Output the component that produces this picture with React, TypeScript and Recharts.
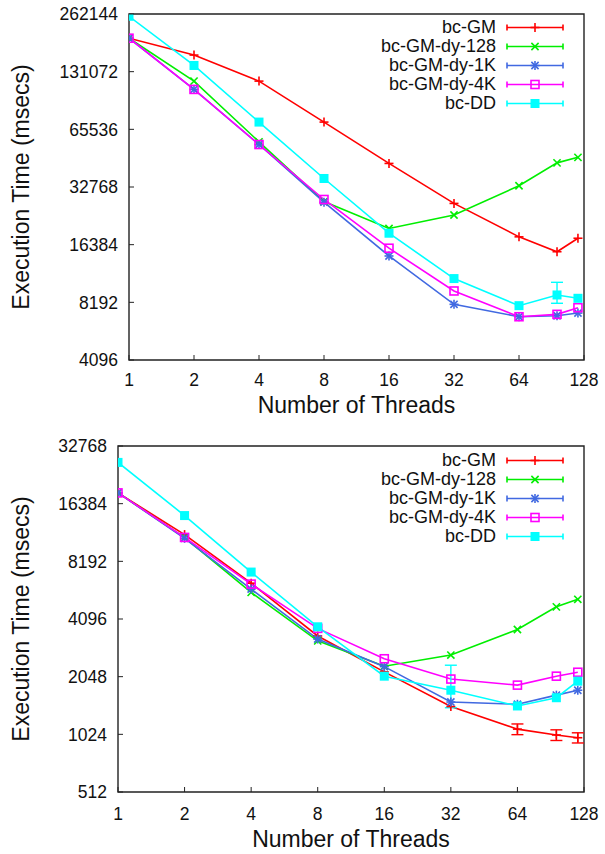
import { ErrorBar, Legend, Line, LineChart, ReferenceArea, XAxis, YAxis } from 'recharts'

const threads = [1, 2, 4, 8, 16, 32, 64, 96, 120]
const xTicks = [1, 2, 4, 8, 16, 32, 64, 128]

// upper plot
const topTicks = [4096, 8192, 16384, 32768, 65536, 131072, 262144]
const gmTop = [196000, 160000, 117000, 71500, 43500, 26900, 18000, 15050, 17700]
const dy128Top = [196000, 117000, 56400, 27500, 19900, 23400, 33250, 43800, 46800]
const dy1kTop = [196000, 105900, 54600, 27300, 14300, 8000, 6890, 6970, 7200]
const dy4kTop = [196000, 105900, 54600, 28200, 15700, 9390, 6890, 7090, 7680]
const ddTop = [255000, 141200, 71500, 36300, 18800, 10900, 7870, 8950, 8600]
const ddTopErr = [null, null, null, null, null, null, null, [850, 1470], null]

// lower plot
const botTicks = [512, 1024, 2048, 4096, 8192, 16384, 32768]
const gmBot = [18650, 11300, 6300, 3340, 2170, 1430, 1090, 1016, 983]
const dy128Bot = [18650, 10900, 5640, 3150, 2320, 2655, 3610, 4740, 5190]
const dy1kBot = [18650, 10800, 5870, 3220, 2310, 1510, 1470, 1640, 1740]
const dy4kBot = [18650, 10920, 6230, 3660, 2540, 1990, 1850, 2060, 2160]
const ddBot = [26900, 14200, 7200, 3730, 2060, 1740, 1440, 1590, 1940]
const gmBotErr = [null, null, null, null, null, null, [70, 70], [65, 65], [60, 60]]
const ddBotErr = [null, null, null, null, null, [330, 610], null, null, null]

type Shape = 'plus' | 'cross' | 'star' | 'box' | 'fbox'

const series: { key: string; name: string; color: string; shape: Shape }[] = [
  { key: 'gm', name: 'bc-GM', color: '#ff0000', shape: 'plus' },
  { key: 'dy128', name: 'bc-GM-dy-128', color: '#00ee00', shape: 'cross' },
  { key: 'dy1k', name: 'bc-GM-dy-1K', color: '#4169e1', shape: 'star' },
  { key: 'dy4k', name: 'bc-GM-dy-4K', color: '#ff00ff', shape: 'box' },
  { key: 'dd', name: 'bc-DD', color: '#00ffff', shape: 'fbox' },
]

const FONT = '"Liberation Sans", Arial, Helvetica, sans-serif'
const AXIS = '#222'

function Marker({ cx, cy, shape, color }: { cx: number; cy: number; shape: Shape; color: string }) {
  const s = 4.5
  const sw = 1.6
  if (shape === 'plus' || shape === 'star' || shape === 'cross') {
    const plus = (
      <>
        <line x1={cx - s} y1={cy} x2={cx + s} y2={cy} stroke={color} strokeWidth={sw} />
        <line x1={cx} y1={cy - s} x2={cx} y2={cy + s} stroke={color} strokeWidth={sw} />
      </>
    )
    const d = 3.6
    const cross = (
      <>
        <line x1={cx - d} y1={cy - d} x2={cx + d} y2={cy + d} stroke={color} strokeWidth={sw} />
        <line x1={cx - d} y1={cy + d} x2={cx + d} y2={cy - d} stroke={color} strokeWidth={sw} />
      </>
    )
    return (
      <g>
        {shape !== 'cross' && plus}
        {shape !== 'plus' && cross}
      </g>
    )
  }
  if (shape === 'box') {
    return <rect x={cx - 4} y={cy - 4} width={8} height={8} fill="none" stroke={color} strokeWidth={sw} />
  }
  return <rect x={cx - 4.5} y={cy - 4.5} width={9} height={9} fill={color} />
}

function buildRows(cols: Record<string, (number | number[] | null)[]>) {
  return threads.map((t, i) => {
    const row: Record<string, unknown> = { t }
    Object.entries(cols).forEach(([k, v]) => {
      if (v[i] != null) row[k] = v[i]
    })
    return row
  })
}

const topData = buildRows({ gm: gmTop, dy128: dy128Top, dy1k: dy1kTop, dy4k: dy4kTop, dd: ddTop, ddErr: ddTopErr })
const botData = buildRows({
  gm: gmBot,
  dy128: dy128Bot,
  dy1k: dy1kBot,
  dy4k: dy4kBot,
  dd: ddBot,
  gmErr: gmBotErr,
  ddErr: ddBotErr,
})

function LegendBox() {
  return (
    <div style={{ fontFamily: FONT, fontSize: 18, color: '#111' }}>
      {series.map((s) => (
        <div key={s.key} style={{ display: 'flex', alignItems: 'center', justifyContent: 'flex-end', height: 19 }}>
          <span style={{ lineHeight: '19px', whiteSpace: 'nowrap' }}>{s.name}</span>
          <svg width={60} height={19} style={{ marginLeft: 9, display: 'block' }}>
            <line x1={2} y1={9.5} x2={58} y2={9.5} stroke={s.color} strokeWidth={1.6} />
            <line x1={2} y1={6.5} x2={2} y2={12.5} stroke={s.color} strokeWidth={1.6} />
            <line x1={58} y1={6.5} x2={58} y2={12.5} stroke={s.color} strokeWidth={1.6} />
            <Marker cx={30} cy={9.5} shape={s.shape} color={s.color} />
          </svg>
        </div>
      ))}
    </div>
  )
}

type PlotProps = {
  data: Record<string, unknown>[]
  yTicks: number[]
  height: number
  top: number
  yWidth: number
  xLabelGap: number
  legendTop: number
  errKeys: string[]
}

function Plot({ data, yTicks, height, top, yWidth, xLabelGap, legendTop, errKeys }: PlotProps) {
  const yDomain = [yTicks[0], yTicks[yTicks.length - 1]]
  const xHeight = height - top - 346
  return (
    <LineChart width={605} height={height} data={data} margin={{ top, right: 21, bottom: 0, left: 0 }}>
      <XAxis
        dataKey="t"
        type="number"
        scale="log"
        domain={[1, 128]}
        ticks={xTicks}
        allowDataOverflow
        axisLine={false}
        tickLine={false}
        tickSize={0}
        tickMargin={xLabelGap}
        height={xHeight}
        interval={0}
        tick={(p: any) => (
          <g>
            <line x1={p.x} y1={p.y - xLabelGap} x2={p.x} y2={p.y - xLabelGap - 5} stroke={AXIS} strokeWidth={1} />
            <text x={p.x} y={p.y} dy="0.72em" textAnchor="middle" fontFamily={FONT} fontSize={17.5} fill="#111">
              {p.payload.value}
            </text>
          </g>
        )}
        label={{
          content: (p: any) => {
            const vb = p.viewBox
            return (
              <text x={vb.x + vb.width / 2} y={vb.y + xLabelGap + 40} textAnchor="middle" fontFamily={FONT} fontSize={23} fill="#111">
                Number of Threads
              </text>
            )
          },
        }}
      />
      <YAxis
        yAxisId="l"
        type="number"
        scale="log"
        domain={yDomain}
        ticks={yTicks}
        allowDataOverflow
        width={yWidth}
        axisLine={false}
        tickLine={false}
        tickSize={0}
        tickMargin={11}
        interval={0}
        tick={(p: any) => (
          <g>
            <line x1={p.x + 11} y1={p.y} x2={p.x + 16} y2={p.y} stroke={AXIS} strokeWidth={1} />
            <text x={p.x} y={p.y} dy="0.36em" textAnchor="end" fontFamily={FONT} fontSize={17.5} fill="#111">
              {p.payload.value}
            </text>
          </g>
        )}
        label={{
          content: (p: any) => {
            const vb = p.viewBox
            const cx = vb.x + 21
            const cy = vb.y + vb.height / 2
            return (
              <text
                x={cx}
                y={cy}
                transform={`rotate(-90 ${cx} ${cy})`}
                textAnchor="middle"
                dominantBaseline="central"
                fontFamily={FONT}
                fontSize={23}
                fill="#111"
              >
                Execution Time (msecs)
              </text>
            )
          },
        }}
      />
      <YAxis
        yAxisId="r"
        orientation="right"
        type="number"
        scale="log"
        domain={yDomain}
        ticks={yTicks}
        allowDataOverflow
        width={0}
        axisLine={false}
        tickLine={false}
        tickSize={0}
        tickMargin={0}
        interval={0}
        tick={(p: any) => <line x1={p.x - 5} y1={p.y} x2={p.x} y2={p.y} stroke={AXIS} strokeWidth={1} />}
      />
      <ReferenceArea
        yAxisId="l"
        x1={1}
        x2={128}
        y1={yDomain[0]}
        y2={yDomain[1]}
        fill="none"
        stroke={AXIS}
        strokeWidth={1.4}
        ifOverflow="visible"
      />
      {series.map((s) => (
        <Line
          key={s.key}
          yAxisId="l"
          dataKey={s.key}
          name={s.name}
          stroke={s.color}
          strokeWidth={1.6}
          isAnimationActive={false}
          activeDot={false}
          dot={(p: any) => <Marker key={`${s.key}-${p.index}`} cx={p.cx} cy={p.cy} shape={s.shape} color={s.color} />}
        >
          {errKeys.includes(s.key + 'Err') && (
            <ErrorBar dataKey={s.key + 'Err'} width={6} stroke={s.color} strokeWidth={1.4} isAnimationActive={false} />
          )}
        </Line>
      ))}
      <Legend
        layout="vertical"
        align="center"
        verticalAlign="middle"
        wrapperStyle={{ right: 40, top: legendTop, width: 'auto' }}
        content={() => <LegendBox />}
      />
    </LineChart>
  )
}

export default function App() {
  return (
    <div style={{ position: 'absolute', left: 0, top: 0, width: 605, height: 854, background: '#fff' }}>
      <Plot
        data={topData}
        yTicks={topTicks}
        height={425}
        top={14}
        yWidth={129}
        xLabelGap={13}
        legendTop={17.5}
        errKeys={['ddErr']}
      />
      <Plot
        data={botData}
        yTicks={botTicks}
        height={429}
        top={21}
        yWidth={118}
        xLabelGap={15}
        legendTop={25.5}
        errKeys={['gmErr', 'ddErr']}
      />
    </div>
  )
}
